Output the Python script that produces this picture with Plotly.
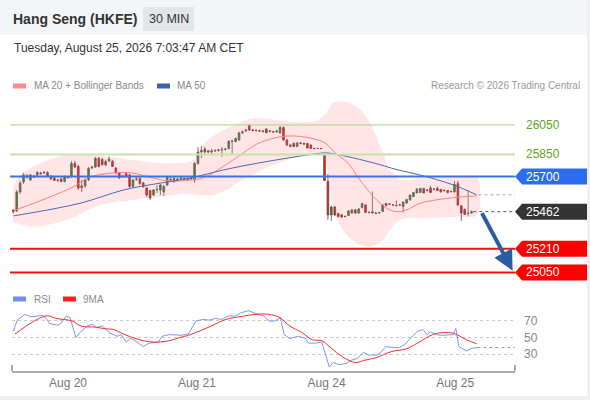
import plotly.graph_objects as go

# ---- data (30 min bars, price in index points) ----
bar_open = [25474, 25467, 25596, 25664, 25697, 25677, 25704, 25711, 25725, 25725,
            25728, 25701, 25691, 25674, 25684, 25667, 25697, 25701, 25789, 25769,
            25636, 25636, 25677, 25758, 25765, 25823, 25816, 25779, 25806, 25803,
            25758, 25725, 25701, 25721, 25711, 25633, 25681, 25687, 25657, 25623,
            25606, 25575, 25609, 25609, 25596, 25643, 25677, 25667, 25681, 25687,
            25687, 25681, 25684, 25677, 25789, 25867, 25887, 25874, 25867, 25874,
            25877, 25881, 25884, 25891, 25938, 25938, 25948, 25996, 26009, 26047,
            26016, 26013, 26013, 26009, 26023, 26006, 26006, 26003, 25996, 26033,
            25948, 25904, 25925, 25904, 25925, 25925, 25925, 25914, 25891, 25891,
            25891, 25847, 25667, 25440, 25494, 25450, 25440, 25430, 25436, 25453,
            25474, 25453, 25491, 25508, 25457, 25453, 25453, 25453, 25464, 25518,
            25514, 25508, 25504, 25508, 25497, 25521, 25542, 25565, 25589, 25592,
            25620, 25609, 25623, 25613, 25620, 25613, 25606, 25606, 25599, 25596,
            25653, 25501, 25477, 25450, 25453]
bar_high = [25480, 25609, 25670, 25725, 25718, 25718, 25711, 25738, 25731, 25738,
            25735, 25711, 25697, 25684, 25691, 25708, 25704, 25806, 25806, 25779,
            25677, 25684, 25765, 25772, 25833, 25833, 25826, 25813, 25837, 25813,
            25765, 25731, 25711, 25731, 25718, 25684, 25697, 25694, 25664, 25630,
            25609, 25616, 25643, 25650, 25643, 25704, 25697, 25697, 25691, 25697,
            25694, 25694, 25697, 25799, 25901, 25908, 25901, 25881, 25887, 25884,
            25887, 25901, 25894, 25948, 25948, 25965, 26003, 26013, 26023, 26053,
            26023, 26020, 26016, 26016, 26026, 26016, 26009, 26016, 26043, 26040,
            25955, 25921, 25931, 25935, 25935, 25931, 25928, 25918, 25894, 25894,
            25894, 25853, 25718, 25504, 25501, 25453, 25447, 25436, 25474, 25480,
            25480, 25487, 25521, 25511, 25464, 25599, 25460, 25460, 25511, 25521,
            25518, 25514, 25538, 25514, 25531, 25548, 25579, 25596, 25620, 25623,
            25623, 25616, 25636, 25620, 25633, 25616, 25613, 25609, 25606, 25670,
            25670, 25508, 25484, 25609, 25471]
bar_low = [25447, 25460, 25582, 25650, 25684, 25670, 25691, 25704, 25711, 25718,
           25697, 25677, 25670, 25664, 25660, 25660, 25684, 25691, 25758, 25609,
           25596, 25623, 25670, 25752, 25758, 25762, 25772, 25772, 25799, 25765,
           25718, 25684, 25691, 25691, 25623, 25623, 25670, 25643, 25623, 25562,
           25542, 25569, 25589, 25575, 25569, 25636, 25664, 25657, 25670, 25677,
           25677, 25674, 25677, 25657, 25779, 25826, 25847, 25860, 25853, 25867,
           25870, 25833, 25877, 25884, 25847, 25931, 25942, 25989, 26003, 26009,
           26006, 26006, 26003, 25999, 25992, 25999, 25996, 25996, 25989, 25942,
           25908, 25898, 25898, 25898, 25918, 25914, 25891, 25887, 25884, 25887,
           25887, 25670, 25406, 25399, 25433, 25423, 25419, 25423, 25433, 25447,
           25447, 25447, 25484, 25453, 25450, 25450, 25447, 25447, 25460, 25497,
           25508, 25501, 25497, 25501, 25457, 25514, 25535, 25562, 25586, 25589,
           25586, 25599, 25589, 25606, 25603, 25592, 25599, 25586, 25592, 25592,
           25501, 25399, 25440, 25430, 25447]
bar_close = [25464, 25596, 25657, 25711, 25704, 25711, 25697, 25728, 25721, 25728,
             25704, 25684, 25674, 25677, 25667, 25701, 25694, 25789, 25765, 25623,
             25626, 25677, 25755, 25765, 25823, 25769, 25782, 25803, 25819, 25769,
             25725, 25691, 25700, 25701, 25633, 25677, 25684, 25653, 25633, 25575,
             25555, 25609, 25613, 25643, 25633, 25697, 25681, 25687, 25684, 25691,
             25684, 25687, 25691, 25789, 25867, 25877, 25867, 25867, 25874, 25877,
             25881, 25884, 25887, 25938, 25942, 25958, 25996, 26003, 26016, 26016,
             26013, 26012, 26009, 26006, 25999, 26009, 26003, 26009, 26033, 25948,
             25914, 25914, 25904, 25928, 25928, 25921, 25894, 25891, 25890, 25890,
             25890, 25674, 25440, 25494, 25440, 25430, 25426, 25429, 25467, 25474,
             25453, 25480, 25518, 25457, 25456, 25460, 25450, 25457, 25508, 25504,
             25513, 25507, 25503, 25507, 25528, 25545, 25575, 25592, 25616, 25620,
             25589, 25606, 25592, 25616, 25606, 25596, 25605, 25592, 25598, 25647,
             25508, 25453, 25443, 25453, 25462]

# moving averages and Bollinger bands, sampled at bar positions
ma20_x = [0, 6, 15.6, 18.5, 21.5, 28.3, 35, 40, 45, 51.7, 56, 61.3, 66, 71.2, 76,
          80, 84, 88, 91, 94.6, 97.5, 101.4, 105.3, 109.2, 112.1, 115, 118.9, 123.8,
          129.6, 135.5]
ma20_y = [25469, 25519, 25609, 25643, 25689, 25723, 25723, 25695, 25672, 25675,
          25695, 25767, 25840, 25920, 25960, 25975, 25972, 25955, 25930, 25850,
          25800, 25677, 25564, 25485, 25462, 25474, 25519, 25542, 25560, 25569]
ma50_x = [0, 19.5, 32.2, 42, 51.7, 61.4, 71.2, 80.9, 89.7, 92, 104.3, 112.5, 118.9,
          128.7, 135.5]
ma50_y = [25433, 25519, 25609, 25652, 25689, 25745, 25790, 25828, 25858, 25860,
          25799, 25745, 25711, 25643, 25576]
bb_up_x = [0, 2, 5.8, 10, 15.6, 25.4, 35, 44.9, 52.6, 54.5, 57, 60, 64.2, 69.2, 75,
           80.9, 88.8, 91.5, 93.5, 96.4, 100.5, 104.3, 108.1, 110.1, 113.1, 119.9,
           129.7, 135.5]
bb_up_y = [25630, 25711, 25767, 25810, 25847, 25840, 25813, 25790, 25813, 25890,
           25950, 25995, 26045, 26092, 26090, 26070, 26080, 26130, 26199, 26208,
           26174, 26062, 25860, 25745, 25677, 25689, 25695, 25695]
bb_lo_x = [0, 5.8, 15.6, 25.4, 35, 42.9, 50.8, 54, 58.4, 61.4, 66.3, 76, 85.9, 89.7,
           91.7, 93.5, 96.4, 100.5, 104.3, 108.1, 110.1, 113.1, 119.9, 129.7, 135.5]
bb_lo_y = [25392, 25361, 25406, 25508, 25542, 25564, 25585, 25575, 25575, 25598,
           25666, 25779, 25847, 25853, 25767, 25496, 25338, 25248, 25225, 25270,
           25338, 25406, 25417, 25428, 25440]

# RSI pane
rsi_x = [0, 1.3, 3.5, 5.1, 7.3, 8.4, 9.5, 10.6, 12.8, 13.9, 15.5, 16.6, 18.3, 19.4,
         21.6, 23.2, 24.3, 26.0, 28.2, 30.4, 31.5, 33.1, 34.2, 35.9, 38.0, 39.7,
         42.4, 43.5, 45.7, 49.0, 51.2, 53.4, 55.6, 57.3, 58.9, 61.1, 62.7, 64.9,
         66.6, 68.8, 70.9, 73.2, 74.8, 76.5, 78.1, 79.2, 80.9, 83.1, 85.3, 86.3,
         88.5, 90.2, 92.4, 93.5, 95.1, 97.3, 98.9, 100.6, 102.3, 103.9, 106.1,
         107.2, 108.9, 111.0, 112.7, 114.3, 116.0, 118.2, 119.8, 120.9, 122.0,
         123.7, 125.3, 127.5, 128.6, 129.4, 130.3, 132.5, 134.1, 135.7]
rsi_v = [57.6, 72, 78, 75, 76, 77, 74, 67, 65, 67, 76, 74, 50, 55.6, 64, 66, 62, 64,
         55.6, 51.4, 53.5, 44.4, 49.4, 45.3, 39, 43.2, 44.4, 51.4, 53.5, 52.7, 54.3,
         70, 72, 71, 73, 72, 76, 76, 80, 82.4, 79, 76, 70, 70, 74, 53.5, 48.6, 51.4,
         49.4, 43.2, 43.2, 44.4, 14.3, 19.7, 17.2, 18.4, 22.6, 24.6, 32, 28.7, 28.7,
         30.8, 39, 37.8, 37.8, 41, 48.6, 57.6, 59.7, 53.5, 56.8, 53.5, 52.7, 53.5,
         53.5, 61, 39, 33.7, 37, 37.8]
ma9_x = [0.5, 9.5, 12.8, 17.2, 19.9, 23.8, 27.1, 29.3, 32.6, 38.1, 41.3, 44.6, 49.0,
         52.3, 57.8, 62.2, 66.6, 71.0, 74.3, 77.6, 80.9, 84.2, 87.5, 90.2, 93.0,
         96.2, 100.1, 102.8, 106.1, 110.5, 114.9, 118.2, 122.6, 124.8, 128.1, 129.7,
         132.5, 135.5]
ma9_v = [54.3, 76.2, 72.9, 70, 63.8, 62.6, 60.5, 59.7, 53.5, 46, 44.4, 45.3, 50.2,
         54.3, 63.8, 72, 75.4, 78.2, 78.2, 74.9, 63.8, 56.4, 47.3, 46, 37, 26.7, 19.7,
         22.6, 25.5, 32.9, 36.2, 43.2, 53.5, 55.6, 55.6, 53.5, 47.3, 42.4]
rsi_levels = [30, 50, 70]

day_ticks = [16, 53.7, 91.6, 129.2]
day_labels = ["Aug 20", "Aug 21", "Aug 24", "Aug 25"]

resistance = [26050, 25850]
pivot = 25700
last_price = 25462
supports = [25210, 25050]

W, H = 590, 400
FONT = "Liberation Sans, Arial, sans-serif"


def px(x):
    return x / W


def py(y):
    return 1 - y / H


bar_x = list(range(len(bar_close)))
x_range = [-0.38, 146.7]

fig = go.Figure()

fig.add_trace(go.Scatter(
    x=bb_up_x + bb_lo_x[::-1], y=bb_up_y + bb_lo_y[::-1],
    fill="toself", fillcolor="rgba(255,110,110,0.18)",
    line=dict(width=0, shape="spline", smoothing=1), mode="lines",
    hoverinfo="skip", xaxis="x", yaxis="y"))
fig.add_trace(go.Scatter(
    x=ma20_x, y=ma20_y, mode="lines",
    line=dict(color="#ff8080", width=1, shape="spline"), xaxis="x", yaxis="y"))
fig.add_trace(go.Scatter(
    x=ma50_x, y=ma50_y, mode="lines",
    line=dict(color="#4a6cb0", width=1, shape="spline"), xaxis="x", yaxis="y"))
fig.add_trace(go.Candlestick(
    x=bar_x, open=bar_open, high=bar_high, low=bar_low, close=bar_close,
    increasing=dict(fillcolor="#21892a", line=dict(color="#4d5f4d", width=0.8)),
    decreasing=dict(fillcolor="#dd1c1c", line=dict(color="#7d3a3a", width=0.8)),
    whiskerwidth=0, xaxis="x", yaxis="y"))

fig.add_trace(go.Scatter(
    x=rsi_x, y=rsi_v, mode="lines",
    line=dict(color="#7b97f0", width=1), xaxis="x2", yaxis="y2"))
fig.add_trace(go.Scatter(
    x=ma9_x, y=ma9_v, mode="lines",
    line=dict(color="#ff2a2a", width=1, shape="spline"), xaxis="x2", yaxis="y2"))
fig.add_trace(go.Scatter(
    x=[rsi_x[-1], x_range[1]], y=[rsi_v[-1], rsi_v[-1]], mode="lines",
    line=dict(color="#7b97f0", width=1, dash="dot"), xaxis="x2", yaxis="y2"))

shapes = []
annotations = []

# page chrome
shapes.append(dict(type="rect", xref="paper", yref="paper", x0=0, x1=1,
                   y0=py(35), y1=1, fillcolor="#f4f5f7", line_width=0, layer="below"))
shapes.append(dict(type="rect", xref="paper", yref="paper", x0=px(587), x1=1,
                   y0=0, y1=1, fillcolor="#eef0f2", line_width=0, layer="below"))
shapes.append(dict(type="rect", xref="paper", yref="paper", x0=0, x1=1,
                   y0=0, y1=py(396), fillcolor="#eef0f2", line_width=0, layer="below"))
shapes.append(dict(type="rect", xref="paper", yref="paper", x0=px(143), x1=px(194),
                   y0=py(31), y1=py(7), fillcolor="#e3e5e8", line_width=0, layer="below"))

annotations += [
    dict(text="<b>Hang Seng (HKFE)</b>", x=px(11), y=py(19), xanchor="left",
         font=dict(size=14, color="#333")),
    dict(text="30 MIN", x=px(168.5), y=py(19), xanchor="center",
         font=dict(size=12.5, color="#333")),
    dict(text="Tuesday, August 25, 2026 7:03:47 AM CET", x=px(12), y=py(48),
         xanchor="left", font=dict(size=12, color="#333")),
    dict(text="MA 20 + Bollinger Bands", x=px(32), y=py(86), xanchor="left",
         font=dict(size=10, color="#8a8a8a")),
    dict(text="MA 50", x=px(175), y=py(86), xanchor="left",
         font=dict(size=10, color="#8a8a8a")),
    dict(text="Research © 2026 Trading Central", x=px(582), y=py(86),
         xanchor="right", font=dict(size=10, color="#9a9a9a")),
    dict(text="RSI", x=px(32), y=py(299), xanchor="left",
         font=dict(size=10, color="#8a8a8a")),
    dict(text="9MA", x=px(81), y=py(299), xanchor="left",
         font=dict(size=10, color="#8a8a8a")),
]
for x0, color, yy in [(13, "#ff8a8a", 86), (157, "#3d62a8", 86),
                      (13, "#6f8ff0", 299), (63, "#ff1f1f", 299)]:
    shapes.append(dict(type="rect", xref="paper", yref="paper", x0=px(x0),
                       x1=px(x0 + 13), y0=py(yy + 2.5), y1=py(yy - 2.5),
                       fillcolor=color, line_width=0))

# horizontal levels
line_x0, line_x1 = px(10), px(515)
shapes.append(dict(type="line", xref="paper", yref="y", x0=line_x0, x1=line_x1,
                   y0=resistance[0], y1=resistance[0],
                   line=dict(color="#a8cf84", width=1)))
shapes.append(dict(type="line", xref="paper", yref="y", x0=line_x0, x1=line_x1,
                   y0=resistance[1], y1=resistance[1],
                   line=dict(color="#c6e2aa", width=2)))
shapes.append(dict(type="line", xref="paper", yref="y", x0=line_x0, x1=line_x1,
                   y0=pivot, y1=pivot, line=dict(color="#3b74e0", width=2)))
for lvl in supports:
    shapes.append(dict(type="line", xref="paper", yref="y", x0=line_x0, x1=line_x1,
                       y0=lvl, y1=lvl, line=dict(color="#ee1111", width=2)))
shapes.append(dict(type="line", xref="x", yref="y", x0=bar_x[-1] + 0.5,
                   x1=x_range[1], y0=last_price, y1=last_price,
                   line=dict(color="#555", width=1, dash="dot")))
shapes.append(dict(type="line", xref="x", yref="y", x0=ma50_x[-1] + 0.5,
                   x1=x_range[1], y0=ma50_y[-1], y1=ma50_y[-1],
                   line=dict(color="#93a6d6", width=1, dash="dot")))

# price tags on the right
half = 8 * 6.78
for lvl in resistance:
    annotations.append(dict(text=str(lvl), x=px(524), y=lvl, xref="paper", yref="y",
                            xanchor="left", font=dict(size=12, color="#5fa31f")))
for lvl, color in [(pivot, "#2c6cf0"), (last_price, "#333333"),
                   (supports[0], "#ff0000"), (supports[1], "#ff0000")]:
    path = (f"M {px(515)},{lvl} L {px(522)},{lvl + half} L {px(587)},{lvl + half} "
            f"L {px(587)},{lvl - half} L {px(522)},{lvl - half} Z")
    shapes.append(dict(type="path", xref="paper", yref="y", path=path,
                       fillcolor=color, line_width=0))
    annotations.append(dict(text=str(lvl), x=px(524), y=lvl, xref="paper", yref="y",
                            xanchor="left", font=dict(size=12, color="white")))

# target arrow
annotations.append(dict(text="", x=146.0, y=25062, xref="x", yref="y",
                        ax=136.8, ay=25462, axref="x", ayref="y", showarrow=True,
                        arrowhead=2, arrowsize=1, arrowwidth=4, arrowcolor="#2b5c9e"))

# rsi axis end brackets
for xx in (12, 515):
    shapes.append(dict(type="line", xref="paper", yref="paper", x0=px(xx), x1=px(xx),
                       y0=py(371), y1=py(365), line=dict(color="#aaa", width=2)))

for a in annotations:
    a.setdefault("xref", "paper")
    a.setdefault("yref", "paper")
    a.setdefault("showarrow", False)
    a.setdefault("yanchor", "middle")

fig.update_layout(
    width=W, height=H, margin=dict(l=0, r=0, t=0, b=0),
    paper_bgcolor="white", plot_bgcolor="rgba(0,0,0,0)",
    showlegend=False, font=dict(family=FONT),
    shapes=shapes, annotations=annotations,
    xaxis=dict(domain=[px(12), px(515)], range=x_range, visible=False,
               rangeslider=dict(visible=False), anchor="y"),
    yaxis=dict(domain=[py(285), py(95)], range=[24965, 26253], visible=False,
               anchor="x"),
    xaxis2=dict(domain=[px(12), px(515)], range=x_range, anchor="y2",
                showline=True, linecolor="#aaa", linewidth=2, showgrid=False,
                zeroline=False, tickvals=day_ticks, ticktext=day_labels, ticks="",
                tickfont=dict(size=12, color="#777")),
    yaxis2=dict(domain=[py(371), py(303)], range=[9.4, 91.8], anchor="x2",
                side="right", tickvals=rsi_levels, showgrid=True,
                gridcolor="#c8c8c8", griddash="dot", zeroline=False,
                showline=False, ticks="", ticklabelstandoff=8,
                tickfont=dict(size=12, color="#888")),
)

# the page body has a default margin; drop it so the chart sits at the corner
fig.write_html("out.html", config={"displayModeBar": False},
               post_script="document.body.style.margin='0';")
